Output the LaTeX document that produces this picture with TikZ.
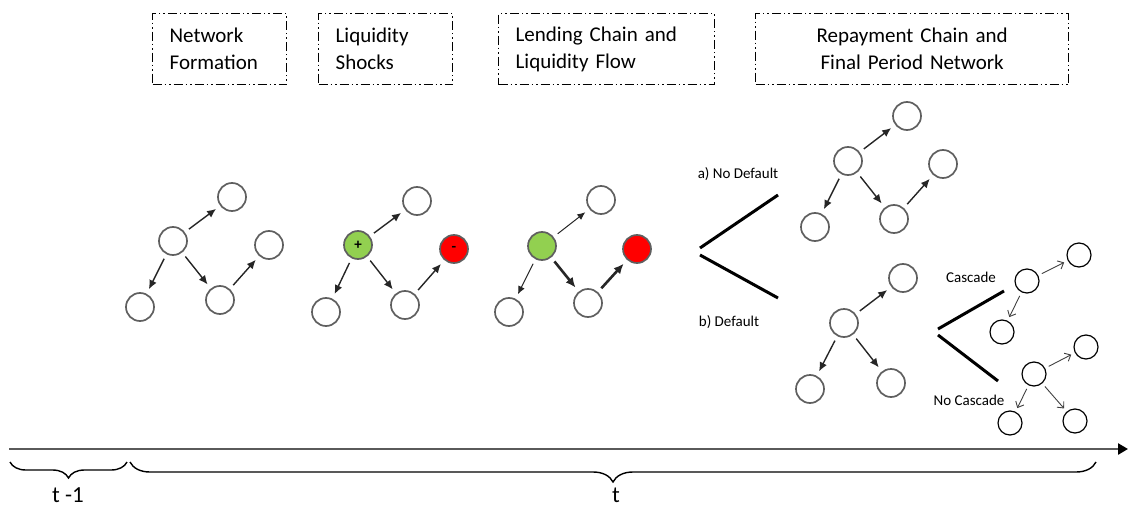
\documentclass[tikz,border=0pt]{standalone}
\usepackage{fontspec}
\setmainfont{Carlito}
\usetikzlibrary{arrows.meta,decorations.pathreplacing}

\definecolor{ringgray}{HTML}{5F5F5F}
\definecolor{axisgray}{HTML}{5A5A5A}
\definecolor{plusgreen}{HTML}{92D050}
\definecolor{minusred}{HTML}{FF0000}

\tikzset{
    stage/.style={draw, line width=1.3pt, dash pattern=on 9pt off 3pt on 1.5pt off 3pt on 1.5pt off 3pt,
        anchor=north west, minimum height=71pt, inner xsep=17pt, align=left, font=\fontsize{21}{27}\selectfont},
    bank/.style={circle, draw=ringgray, line width=1.7pt, minimum size=28pt, inner sep=0pt,
        font=\fontsize{15}{15}\selectfont\bfseries},
    small bank/.style={circle, draw=black, line width=1.2pt, minimum size=24pt, inner sep=0pt},
    link/.style={-{Latex[length=9pt,width=8pt]}, line width=1.4pt, draw=black!85, shorten <=5pt, shorten >=5pt},
    thin link/.style={link, line width=1pt, -{Latex[length=8pt,width=7pt]}},
    heavy link/.style={link, line width=2.6pt, -{Latex[length=10pt,width=9pt]}},
    barb link/.style={-{Straight Barb[length=5pt,width=9pt]}, line width=0.9pt, draw=black!75, shorten <=4pt, shorten >=4pt},
    fork/.style={line width=3pt},
    tag/.style={font=\fontsize{15}{18}\selectfont},
    period/.style={font=\fontsize{23}{23}\selectfont}
}

\begin{document}
\begin{tikzpicture}[x=1pt, y=-1pt]

    \useasboundingbox (0,0) rectangle (1129,508);

    % stages
    \node[stage, text width=100pt] (formation) at (152,13) {Network\\Formation};
    \node[stage, text width=100pt] (shocks) at (318,13) {Liquidity\\Shocks};
    \node[stage, text width=182pt] (lending) at (498,13) {Lending Chain and\\Liquidity Flow};
    \node[stage, text width=279pt, align=center] (repayment) at (755,13) {Repayment Chain and\\Final Period Network};

    % network formation
    \node[bank] (f1) at (173,241) {};
    \node[bank] (f2) at (232,197) {};
    \node[bank] (f3) at (269,245) {};
    \node[bank] (f4) at (140,307) {};
    \node[bank] (f5) at (220,300) {};
    \foreach \a/\b in {f1/f2, f1/f4, f1/f5, f5/f3}
        \draw[link] (\a) -- (\b);

    % liquidity shocks
    \node[bank, fill=plusgreen] (s1) at (358,245) {+};
    \node[bank] (s2) at (417,201) {};
    \node[bank, fill=minusred] (s3) at (454,249) {-};
    \node[bank] (s4) at (326,312) {};
    \node[bank] (s5) at (405,305) {};
    \foreach \a/\b in {s1/s2, s1/s4, s1/s5, s5/s3}
        \draw[link] (\a) -- (\b);

    % lending chain
    \node[bank, fill=plusgreen] (l1) at (542,246) {};
    \node[bank] (l2) at (601,200) {};
    \node[bank, fill=minusred] (l3) at (637,249) {};
    \node[bank] (l4) at (509,312) {};
    \node[bank] (l5) at (588,303) {};
    \foreach \a/\b in {l1/l2, l1/l4}
        \draw[thin link] (\a) -- (\b);
    \foreach \a/\b in {l1/l5, l5/l3}
        \draw[heavy link] (\a) -- (\b);

    % default or not
    \coordinate (ab) at (700,248);
    \coordinate (a) at (778,195);
    \coordinate (bb) at (700,255);
    \coordinate (b) at (778,298);
    \draw[fork] (ab) -- (a);
    \draw[fork] (bb) -- (b);
    \node[tag] (nodefault) at (738,174) {a) No Default};
    \node[tag] (default) at (729,322) {b) Default};

    % no default
    \node[bank] (n1) at (848,161) {};
    \node[bank] (n2) at (907,116) {};
    \node[bank] (n3) at (943,164) {};
    \node[bank] (n4) at (815,227) {};
    \node[bank] (n5) at (894,219) {};
    \foreach \a/\b in {n1/n2, n1/n4, n1/n5, n5/n3}
        \draw[link] (\a) -- (\b);

    % default
    \node[bank] (d1) at (844,323) {};
    \node[bank] (d2) at (903,278) {};
    \node[bank] (d4) at (810,389) {};
    \node[bank] (d5) at (891,383) {};
    \foreach \a/\b in {d1/d2, d1/d4, d1/d5}
        \draw[link] (\a) -- (\b);

    % cascade or not
    \coordinate (cb) at (938,329);
    \coordinate (c) at (1004,291);
    \coordinate (kb) at (938,335);
    \coordinate (k) at (998,381);
    \draw[fork] (cb) -- (c);
    \draw[fork] (kb) -- (k);
    \node[tag] (cascade) at (971,277) {Cascade};
    \node[tag] (nocascade) at (969,400) {No Cascade};

    \node[small bank] (c1) at (1027,281) {};
    \node[small bank] (c2) at (1079,255) {};
    \node[small bank] (c3) at (1002,332) {};
    \foreach \a/\b in {c1/c2, c1/c3}
        \draw[barb link] (\a) -- (\b);

    \node[small bank] (k1) at (1034,374) {};
    \node[small bank] (k2) at (1086,347) {};
    \node[small bank] (k3) at (1010,423) {};
    \node[small bank] (k4) at (1075,421) {};
    \foreach \a/\b in {k1/k2, k1/k3, k1/k4}
        \draw[barb link] (\a) -- (\b);

    % time line
    \coordinate (origin) at (9,449);
    \coordinate (future) at (1128,449);
    \draw[axisgray, line width=2.5pt, -{Triangle[length=10pt,width=11pt,color=black]}] (origin) -- (future);

    \coordinate (p0) at (10,462);
    \coordinate (p1) at (127,462);
    \coordinate (p2) at (130,462);
    \coordinate (p3) at (1096,462);
    \draw[decorate, decoration={brace, mirror, amplitude=16pt}, line width=1.4pt] (p0) -- (p1);
    \draw[decorate, decoration={brace, mirror, amplitude=20pt}, line width=1.4pt] (p2) -- (p3);
    \node[period] (tprev) at (68,495) {t -1};
    \node[period] (tnow) at (616,495) {t};

\end{tikzpicture}
\end{document}
